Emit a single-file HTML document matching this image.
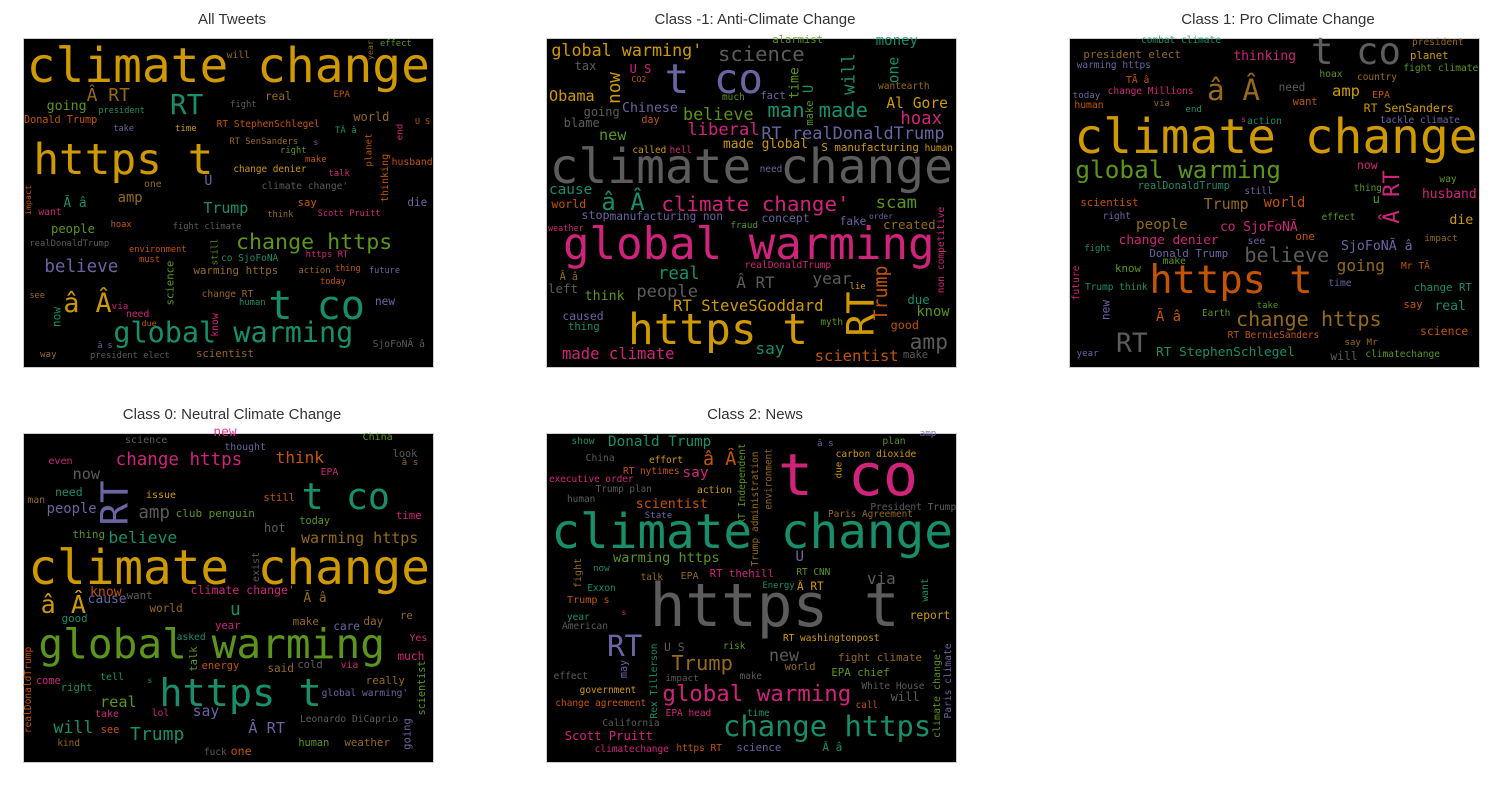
<!DOCTYPE html>
<html><head><meta charset="utf-8">
<style>
body{margin:0;background:#fff;width:1501px;height:789px;overflow:hidden;position:relative;font-family:"Liberation Sans",sans-serif}
.panel{position:absolute;width:420px;height:340px}
.bg{position:absolute;left:4px;top:4px;width:409px;height:328px;background:#000;outline:1px solid #ccc;overflow:hidden}
.title{position:absolute;width:420px;text-align:center;font-size:15px;color:#333;top:-24px;left:2px}
.w{position:absolute;white-space:pre;line-height:1;font-family:"DejaVu Sans Mono","Liberation Mono",monospace;opacity:.9}
</style></head><body>
<div class="panel" id="p1" style="left:20px;top:35px"><div class="title">All Tweets</div><div class="bg"></div></div>
<div class="panel" id="p2" style="left:543px;top:35px"><div class="title">Class -1: Anti-Climate Change</div><div class="bg"></div></div>
<div class="panel" id="p3" style="left:1066px;top:35px"><div class="title">Class 1: Pro Climate Change</div><div class="bg"></div></div>
<div class="panel" id="p4" style="left:20px;top:430px"><div class="title">Class 0: Neutral Climate Change</div><div class="bg"></div></div>
<div class="panel" id="p5" style="left:543px;top:430px"><div class="title">Class 2: News</div><div class="bg"></div></div>
<script>
const colors={g:"#e6ab02",t:"#1b9e77",o:"#d95f02",p:"#7570b3",k:"#e7298a",n:"#66a61e",b:"#a6761d",y:"#666666"};
const words1=[
["climate change",20,1230,145,"g"],["will",620,690,72,"b"],["effect",1080,1175,37,"n"],["year",1040,1060,15,75,"b","v"],
["Â RT",200,330,202,"b"],["RT",450,550,238,"t"],["real",735,815,197,"b"],["EPA",940,990,188,"o"],["going",80,200,230,"n"],
["president",235,375,238,"t"],["fight",630,710,220,"y"],["Donald Trump",12,232,270,"o"],["take",280,342,292,"p"],["time",465,530,292,"g"],
["RT StephenSchlegel",590,900,280,"o"],["world",1000,1108,260,"b"],["U S",1185,1230,268,"o"],["end",1130,1150,265,315,"k","v"],
["TÃ â",945,1010,300,"t"],["RT SenSanders",628,835,332,"b"],["s",880,895,330,"p"],["right",780,860,357,"n"],["planet",1035,1058,295,395,"o","v"],
["make",855,920,385,"o"],["https t",40,580,420,"g"],["change denier",640,860,413,"g"],["thinking",1085,1112,355,500,"o","v"],
["husband",1115,1238,393,"o"],["talk",925,990,428,"k"],["U",553,577,455,"p"],["one",372,425,460,"b"],["climate change'",725,985,466,"y"],
["impact",10,35,450,540,"o","v"],["Ã â",130,200,522,"t"],["amp",293,368,507,"b"],["Trump",550,685,535,"t"],["say",833,890,515,"o"],
["die",1162,1222,515,"p"],["want",55,125,545,"k"],["think",742,820,550,"b"],["Scott Pruitt",893,1082,547,"k"],["people",93,225,595,"n"],
["hoax",272,335,580,"o"],["fight climate",458,665,585,"y"],["realDonaldTrump",28,268,638,"y"],["environment",327,500,655,"o"],
["still",578,600,610,690,"n","v"],["change https",648,1117,645,"n"],["co SjoFoNÃ",603,775,680,"t"],["https RT",857,985,670,"k"],
["must",357,420,685,"o"],["believe",73,295,718,"p"],["science",440,468,675,810,"n","v"],["warming https",520,775,720,"b"],
["action",835,932,720,"b"],["thing",945,1022,712,"o"],["future",1047,1140,718,"p"],["today",900,978,750,"o"],["see",28,75,793,"b"],
["change RT",545,700,790,"b"],["â Â",130,275,835,"g"],["via",275,325,823,"k"],["human",657,737,815,"t"],["t co",745,1035,855,"t"],
["new",1065,1125,810,"p"],["now",97,122,815,875,"t","v"],["need",318,388,850,"k"],["due",365,410,872,"o"],["know",575,600,835,905,"k","v"],
["global warming",280,1000,925,"t"],["â s",232,278,943,"p"],["SjoFoNÃ â",1058,1215,940,"y"],["way",60,110,967,"b"],
["president elect",210,450,972,"y"],["scientist",528,702,970,"b"]];
const words2=[
["alarmist",688,840,28,"n"],["money",998,1125,32,"t"],["global warming'",25,478,62,"g"],["science",525,785,80,"y"],["tax",95,160,105,"y"],
["U S",260,325,115,"k"],["CO2",265,310,140,"o"],["t co",365,660,175,"p"],["now",200,235,110,205,"g","v"],["time",740,770,95,190,"n","v"],
["will",897,945,55,180,"t","v"],["one",1040,1072,65,145,"t","v"],["wantearth",1005,1160,165,"b"],["Obama",18,155,200,"g"],["much",537,605,198,"n"],
["fact",652,728,195,"p"],["U",792,810,150,175,"t","v"],["make",790,810,195,270,"n","v"],["Chinese",237,405,235,"p"],["believe",420,632,255,"n"],
["man",673,785,248,"t"],["made",827,975,248,"t"],["Al Gore",1030,1215,222,"g"],["going",122,230,245,"y"],["day",295,350,270,"o"],
["blame",62,170,280,"y"],["hoax",1072,1197,272,"k"],["new",168,250,317,"n"],["liberal",433,650,305,"k"],["RT realDonaldTrump",655,1205,313,"p"],
["made global",540,795,345,"g"],["S manufacturing",835,1128,352,"g"],["human",1145,1230,352,"g"],["called",268,370,358,"g"],["hell",380,447,358,"k"],
["climate change",20,1230,448,"y"],["need",650,718,413,"p"],["cause",18,148,480,"t"],["â Â",175,305,525,"t"],["climate change'",355,920,530,"k"],
["scam",998,1122,525,"n"],["world",25,130,522,"o"],["stop",115,200,555,"p"],["manufacturing non",200,540,555,"p"],["concept",655,800,562,"p"],
["fake",890,970,572,"p"],["order",978,1050,555,"p"],["created",1020,1178,585,"b"],["fraud",562,645,582,"n"],["weather",15,122,588,"k"],
["non competitive",1185,1210,515,775,"k","v"],["global warming",60,1175,675,"k"],["realDonaldTrump",605,865,703,"k"],["Â â",50,105,740,"b"],
["real",345,470,738,"t"],["Â RT",580,695,760,"y"],["year",808,925,750,"y"],["Trump",985,1050,690,855,"o","v"],["lie",920,968,767,"g"],
["left",15,105,775,"y"],["think",125,245,800,"n"],["people",280,465,790,"y"],["due",1093,1160,808,"t"],["RT SteveSGoddard",390,842,828,"g"],
["know",1120,1220,848,"n"],["caused",58,182,858,"p"],["RT",910,1000,770,905,"g","v"],["thing",75,170,888,"t"],["https t",255,795,930,"g"],
["myth",832,900,872,"n"],["good",1043,1128,885,"o"],["amp",1100,1215,945,"y"],["say",637,725,958,"t"],["made climate",57,395,975,"k"],
["scientist",815,1067,980,"o"],["make",1080,1155,972,"y"]];
const words3=[
["combat climate",225,465,28,"t"],["t co",735,1005,88,"y"],["president",1038,1193,32,"b"],["president elect",52,345,72,"b"],["thinking",502,690,78,"k"],
["planet",1032,1148,75,"g"],["warming https",32,255,102,"p"],["hoax",760,830,130,"n"],["country",873,993,137,"b"],["fight climate",1012,1237,112,"n"],
["TÃ â",180,250,148,"o"],["â Â",423,582,198,"b"],["need",638,718,170,"y"],["amp",798,882,185,"g"],["today",20,103,190,"p"],
["change Millions",125,383,180,"k"],["EPA",918,972,192,"o"],["human",25,113,222,"o"],["via",263,312,218,"b"],["want",680,755,212,"o"],
["end",358,408,232,"t"],["RT SenSanders",893,1163,232,"g"],["s",525,540,262,"k"],["action",543,648,272,"t"],["tackle climate",942,1182,268,"p"],
["climate change",25,1235,357,"g"],["global warming",28,645,432,"n"],["now",873,935,405,"k"],["Â RT",945,1010,405,565,"k","v"],["way",1120,1172,443,"n"],
["realDonaldTrump",215,492,468,"t"],["still",535,620,480,"p"],["thing",863,948,472,"n"],["u",920,942,505,"n"],["husband",1068,1232,495,"k"],
["scientist",43,218,517,"o"],["Trump",413,548,525,"b"],["world",593,718,522,"o"],["right",110,195,555,"p"],["effect",767,868,558,"n"],
["die",1150,1222,570,"g"],["people",210,365,585,"b"],["co SjoFoNÃ",462,695,595,"k"],["one",688,747,620,"o"],["change denier",158,458,633,"k"],
["see",545,598,632,"p"],["impact",1075,1175,620,"b"],["fight",55,135,652,"t"],["SjoFoNÃ â",825,1040,650,"p"],["believe",535,790,680,"y"],
["Donald Trump",250,487,670,"p"],["make",290,360,692,"n"],["going",812,957,710,"b"],["Mr TÃ",1005,1092,705,"o"],["know",147,225,715,"n"],
["future",20,45,690,795,"k","v"],["https t",250,740,780,"o"],["time",787,857,757,"p"],["Trump think",57,245,768,"t"],["change RT",1043,1218,770,"t"],
["new",108,132,795,855,"p","v"],["Ã â",270,345,863,"o"],["take",572,637,825,"n"],["say",1012,1070,822,"o"],["real",1105,1200,828,"t"],
["Earth",408,493,845,"n"],["change https",510,947,872,"b"],["RT BernieSanders",485,760,912,"o"],["science",1062,1207,902,"o"],["RT",150,245,955,"y"],
["say Mr",835,935,933,"b"],["year",32,98,967,"p"],["RT StephenSchlegel",270,687,970,"t"],["will",793,875,978,"y"],["climatechange",898,1122,970,"n"]];
const words4=[
["new",580,650,25,"k"],["China",1028,1118,35,"n"],["science",315,442,42,"y"],["thought",613,738,65,"p"],["look",1118,1192,82,"y"],
["â s",1145,1195,107,"b"],["think",767,912,100,"o"],["even",85,158,108,"k"],["change https",287,667,112,"k"],["EPA",902,955,140,"k"],
["now",158,240,148,"y"],["RT",238,330,150,285,"p","v"],["t co",845,1110,240,"t"],["need",105,188,200,"t"],["issue",378,468,208,"g"],
["still",730,825,215,"o"],["man",22,75,222,"b"],["people",80,230,255,"p"],["amp",355,450,270,"y"],["club penguin",467,705,262,"n"],
["time",1128,1205,270,"k"],["today",838,930,287,"n"],["hot",732,797,307,"y"],["thing",157,255,328,"n"],["believe",265,472,342,"t"],
["warming https",843,1195,340,"b"],["climate change",25,1230,465,"g"],["exist",698,722,365,455,"y","v"],["climate change'",512,825,495,"k"],
["know",210,305,500,"o"],["cause",203,320,525,"p"],["want",320,398,510,"y"],["Ã â",850,920,522,"b"],["â Â",62,198,550,"g"],
["world",388,488,547,"b"],["u",630,662,560,"t"],["good",125,203,580,"t"],["make",818,897,590,"b"],["care",940,1020,600,"p"],
["day",1030,1090,585,"b"],["re",1140,1178,570,"b"],["year",585,662,600,"k"],["asked",470,557,632,"t"],["Yes",1168,1222,638,"k"],
["global warming",55,1095,685,"n"],["talk",510,535,650,725,"n","v"],["much",1132,1213,690,"k"],["realDonaldTrump",12,42,650,910,"o","v"],
["energy",545,658,720,"o"],["said",742,822,728,"b"],["cold",832,908,718,"y"],["via",962,1015,717,"k"],["scientist",1195,1225,690,855,"n","v"],
["come",48,122,765,"k"],["tell",240,312,755,"t"],["s",382,397,760,"t"],["really",1037,1155,767,"b"],["right",122,218,787,"t"],
["https t",418,905,832,"t"],["global warming'",905,1165,800,"p"],["real",240,350,835,"n"],["take",225,297,865,"k"],["lol",395,448,862,"k"],
["say",518,598,862,"p"],["Leonardo DiCaprio",840,1135,878,"y"],["going",1150,1180,865,960,"p","v"],["will",100,220,912,"t"],["see",242,298,910,"o"],
["Â RT",685,795,912,"p"],["Trump",330,493,935,"t"],["kind",112,180,950,"b"],["human",835,928,950,"n"],["weather",973,1110,952,"b"],
["fuck",552,620,978,"y"],["one",632,695,978,"o"]];
const words5=[
["show",85,155,45,"t"],["Donald Trump",195,505,50,"t"],["â s",822,872,50,"p"],["amp",1130,1180,20,"p"],["plan",1018,1088,45,"n"],
["China",128,215,97,"y"],["effort",318,420,103,"g"],["â Â",480,580,110,"o"],["RT Independent",588,612,40,285,"n","v"],
["Trump administration",625,650,65,410,"b","v"],["environment",665,690,55,240,"b","v"],["t co",705,1125,195,"k"],["carbon dioxide",878,1120,85,"g"],
["due",877,898,95,145,"g","v"],["RT nytimes",240,410,135,"o"],["say",418,497,145,"k"],["executive order",18,272,160,"k"],["Trump plan",158,327,188,"y"],
["action",462,567,193,"g"],["human",72,157,218,"y"],["scientist",278,495,237,"o"],["President Trump",982,1240,242,"y"],["State",305,388,265,"p"],
["Paris Agreement",855,1110,265,"b"],["climate change",25,1230,358,"t"],["U",757,783,397,"p"],["warming https",210,530,402,"n"],
["fight",92,122,385,475,"b","v"],["now",150,200,425,"t"],["talk",293,360,452,"b"],["EPA",413,467,450,"b"],["RT thehill",500,693,445,"k"],
["RT CNN",760,862,437,"n"],["via",972,1058,462,"y"],["Energy",658,755,478,"t"],["Â RT",762,842,482,"g"],["Exxon",133,218,485,"t"],
["want",1137,1162,445,515,"t","v"],["https t",320,1070,590,"y"],["Trump s",72,200,525,"o"],["s",235,250,555,"k"],["year",72,140,572,"t"],
["report",1100,1222,570,"g"],["American",57,195,600,"y"],["RT",192,298,680,"p"],["RT washingtonpost",720,1010,635,"g"],["U S",363,425,665,"y"],
["Rex Tillerson",323,350,640,865,"t","v"],["risk",540,607,660,"n"],["new",678,768,695,"y"],["fight climate",885,1137,695,"b"],["Trump",385,570,720,"b"],
["may",232,258,690,745,"p","v"],["world",725,818,722,"b"],["effect",32,135,750,"y"],["impact",367,467,755,"y"],["make",590,657,750,"y"],
["EPA chief",865,1040,740,"n"],["White House",955,1145,780,"y"],["government",110,280,793,"g"],["global warming",358,925,815,"k"],["will",1043,1130,815,"y"],
["change agreement",37,310,832,"o"],["call",938,1005,837,"o"],["climate change'",1172,1200,655,925,"n","v"],["Paris climate",1205,1230,640,865,"p","v"],
["EPA head",368,505,862,"k"],["time",612,680,862,"t"],["California",178,350,890,"y"],["change https",540,1165,918,"t"],["Scott Pruitt",65,330,930,"k"],
["climatechange",155,378,970,"k"],["https RT",400,537,967,"o"],["science",580,715,965,"p"],["Ã â",838,898,965,"t"]];
const R=0.602;
function draw(id,words){
  const panel=document.getElementById(id);
  words.forEach(w=>{
    const s=document.createElement('span');
    s.className='w';
    s.textContent=w[0];
    
    
    if(w[6]==='v'){
      const fs=(w[4]-w[3])/3/(w[0].length*R);
      const cx=(w[1]+w[2])/6, cy=(w[3]+w[4])/6;
      s.style.fontSize=fs+'px';
      s.style.color=colors[w[5]];
      s.style.left=cx+'px';s.style.top=cy+'px';
      s.style.transform='translate(-50%,-50%) rotate(-90deg)';
    } else {
      const fs=(w[2]-w[1])/3/(w[0].length*R);
      s.style.fontSize=fs+'px';
      s.style.color=colors[w[4]];
      s.style.left=(w[1]/3)+'px';
      s.style.top=(w[3]/3-0.846*fs)+'px';
    }
    panel.appendChild(s);
  });
}
draw('p1',words1);draw('p2',words2);draw('p3',words3);draw('p4',words4);draw('p5',words5);
</script>
</body></html>
